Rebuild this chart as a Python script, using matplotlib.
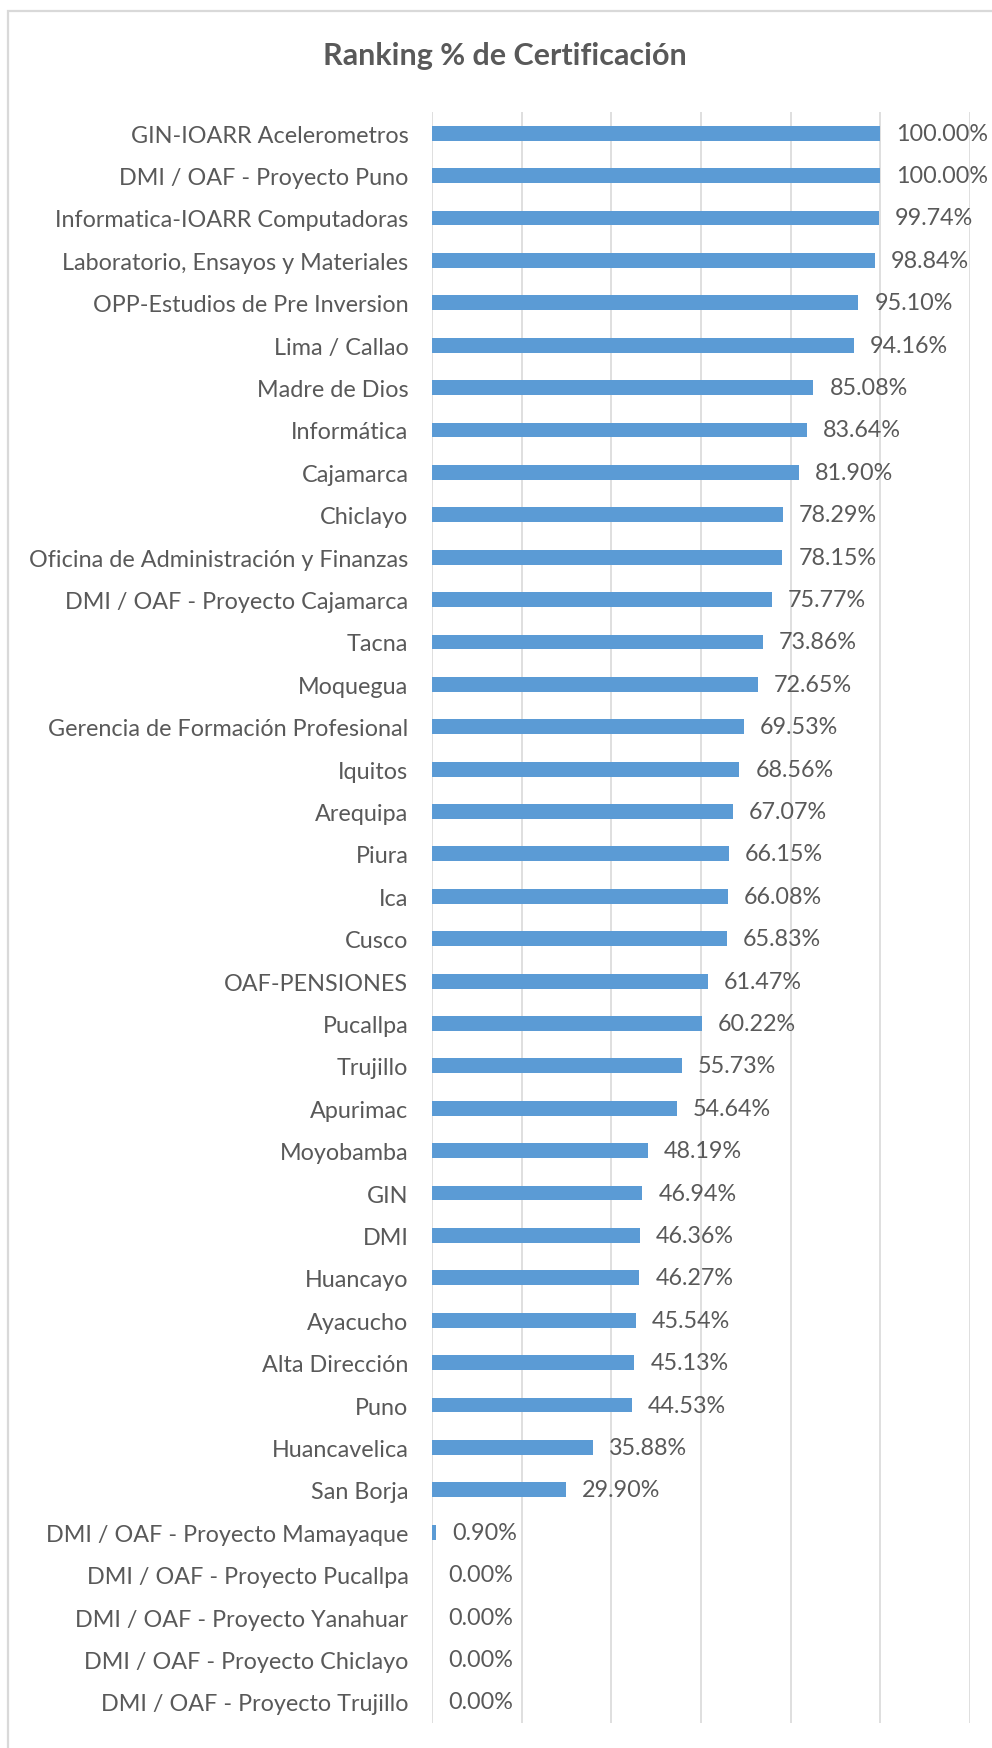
import matplotlib
matplotlib.use("Agg")
import matplotlib.pyplot as plt
from matplotlib.patches import Rectangle

categories = [
    "GIN-IOARR Acelerometros", "DMI / OAF - Proyecto Puno", "Informatica-IOARR Computadoras",
    "Laboratorio, Ensayos y Materiales", "OPP-Estudios de Pre Inversion", "Lima / Callao",
    "Madre de Dios", "Informática", "Cajamarca", "Chiclayo",
    "Oficina de Administración y Finanzas", "DMI / OAF - Proyecto Cajamarca", "Tacna",
    "Moquegua", "Gerencia de Formación Profesional", "Iquitos", "Arequipa", "Piura", "Ica",
    "Cusco", "OAF-PENSIONES", "Pucallpa", "Trujillo", "Apurimac", "Moyobamba", "GIN", "DMI",
    "Huancayo", "Ayacucho", "Alta Dirección", "Puno", "Huancavelica", "San Borja",
    "DMI / OAF - Proyecto Mamayaque", "DMI / OAF - Proyecto Pucallpa",
    "DMI / OAF - Proyecto Yanahuar", "DMI / OAF - Proyecto Chiclayo",
    "DMI / OAF - Proyecto Trujillo",
]
values = [
    100.00, 100.00, 99.74, 98.84, 95.10, 94.16, 85.08, 83.64, 81.90, 78.29,
    78.15, 75.77, 73.86, 72.65, 69.53, 68.56, 67.07, 66.15, 66.08, 65.83,
    61.47, 60.22, 55.73, 54.64, 48.19, 46.94, 46.36, 46.27, 45.54, 45.13,
    44.53, 35.88, 29.90, 0.90, 0.00, 0.00, 0.00, 0.00,
]
title = "Ranking % de Certificación"
xticks = [0, 20, 40, 60, 80, 100, 120]

plt.rcParams['font.family'] = ['Lato', 'DejaVu Sans']
TXT = "#595959"
BAR = "#5B9BD5"
GRID = "#D9D9D9"

W, H = 992, 1749
fig = plt.figure(figsize=(W / 100, H / 100), dpi=100)
fig.patch.set_facecolor("white")

# chart frame (extends past right and bottom edges of the image)
fig.patches.append(Rectangle((8 / W, -0.05), 1.0, 1 - 12 / H + 0.05,
                             transform=fig.transFigure, fill=False,
                             edgecolor="#D9D9D9", lw=1.6))

top, bottom = 113, 1724
ax = fig.add_axes([432 / W, 1 - bottom / H, (970 - 432) / W, (bottom - top) / H])
y = list(range(len(categories)))
ax.barh(y, values, height=0.35, color=BAR, zorder=3)
ax.set_xlim(0, 120)
ax.set_ylim(len(categories) - 0.5, -0.5)
ax.set_xticks(xticks)
ax.set_xticklabels([])
ax.set_yticks(y)
ax.set_yticklabels(categories, color=TXT, fontsize=16.8)
ax.tick_params(axis="both", length=0, pad=17)
ax.grid(axis="x", color=GRID, lw=1.2, zorder=0)
for s in ax.spines.values():
    s.set_visible(False)

for yi, v in zip(y, values):
    ax.annotate(f"{v:.2f}%", xy=(v, yi), xytext=(11.5, 0), textcoords="offset points",
                va="center", ha="left", fontsize=16.8, color=TXT)

fig.text(505 / W, 1 - 56 / H, title, ha="center", va="center", fontsize=22,
         fontweight="bold", color=TXT)

fig.savefig("out.png", dpi=100, facecolor="white")
